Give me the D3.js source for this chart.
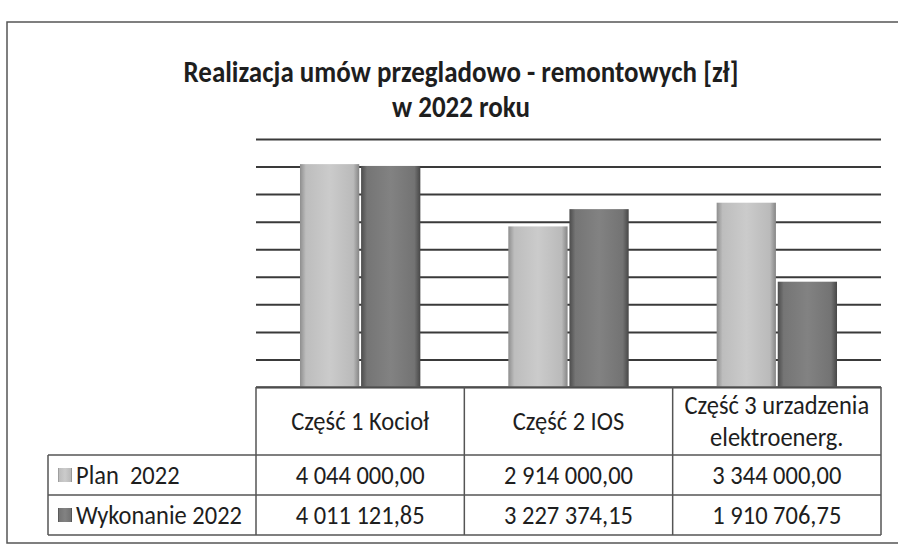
<!DOCTYPE html>
<html>
<head>
<meta charset="utf-8">
<script src="https://cdn.jsdelivr.net/npm/d3@7"></script>
<style>
  html, body { margin: 0; padding: 0; background: #fff; }
  svg { display: block; font-family: "Carlito", "Lato", sans-serif; }
</style>
</head>
<body>
<div id="chart"></div>
<script>
// --- dane ---
const titleLines = ["Realizacja umów przegladowo - remontowych [zł]", "w 2022 roku"];
const categories = ["Część 1 Kocioł", "Część 2 IOS", "Część 3 urzadzenia elektroenerg."];
const categoryLines = [["Część 1 Kocioł"], ["Część 2 IOS"], ["Część 3 urzadzenia", "elektroenerg."]];
const seriesNames = ["Plan  2022", "Wykonanie 2022"];
const plan2022 = [4044000.00, 2914000.00, 3344000.00];
const wykonanie2022 = [4011121.85, 3227374.15, 1910706.75];
const yTicks = [0, 500000, 1000000, 1500000, 2000000, 2500000, 3000000, 3500000, 4000000, 4500000];

const width = 898, height = 547;
const plotLeft = 256, plotRight = 881, plotTop = 139, plotBottom = 387;
const tableTop = 387, rowTops = [455, 495], tableBottom = 535, rowLabelLeft = 48;

const series = [
  { name: seriesNames[0], values: plan2022, grad: "gPlan" },
  { name: seriesNames[1], values: wykonanie2022, grad: "gWyk" }
];

const plFormat = d3.formatLocale({ decimal: ",", thousands: " ", grouping: [3], currency: ["", " zł"] }).format(",.2f");

const svg = d3.select("#chart").append("svg")
  .attr("width", width)
  .attr("height", height)
  .attr("viewBox", `0 0 ${width} ${height}`);

// gradienty słupków (efekt 3D)
const defs = svg.append("defs");
function addGrad(id, stops) {
  const g = defs.append("linearGradient").attr("id", id).attr("x1", 0).attr("x2", 1).attr("y1", 0).attr("y2", 0);
  stops.forEach(s => g.append("stop").attr("offset", s[0]).attr("stop-color", s[1]));
}
addGrad("gPlan", [["0%", "#8e8e8e"], ["10%", "#bdbdbd"], ["50%", "#cbcbcb"], ["90%", "#bababa"], ["100%", "#858585"]]);
addGrad("gWyk", [["0%", "#4c4c4c"], ["10%", "#757575"], ["50%", "#828282"], ["90%", "#737373"], ["100%", "#474747"]]);

// ramka
svg.append("rect")
  .attr("x", 7).attr("y", 22)
  .attr("width", width).attr("height", 521)
  .attr("fill", "#fff").attr("stroke", "#555").attr("stroke-width", 1.5);

// tekst lekko rozciągnięty w pionie jak na skanie
function stretched(sel, x, yy, s) {
  return sel.append("text").attr("transform", `translate(${x},${yy}) scale(1,${s || 1.1})`);
}

// tytuł
const title = svg.append("g").attr("font-weight", "bold").attr("fill", "#1e1e1e").attr("font-size", 27);
titleLines.forEach((t, i) => {
  stretched(title, 461, 82 + i * 35, 1.12)
    .attr("text-anchor", "middle")
    .text(t);
});

// skale
const x0 = d3.scaleBand().domain(categories).range([plotLeft, plotRight]).padding(0);
const x1 = d3.scaleBand().domain(seriesNames).range([0, x0.bandwidth()]).paddingInner(0.03).paddingOuter(0.72);
const y = d3.scaleLinear().domain([0, 4500000]).range([plotBottom, plotTop]);

// linie siatki
const grid = svg.append("g")
  .attr("transform", `translate(${plotLeft},0)`)
  .call(d3.axisLeft(y).tickValues(yTicks).tickSize(-(plotRight - plotLeft)).tickFormat(""));
grid.select(".domain").remove();
grid.selectAll(".tick line").attr("stroke", "#3a3a3a").attr("stroke-width", 2);

// słupki
const groups = svg.append("g").selectAll("g")
  .data(categories)
  .join("g")
  .attr("transform", d => `translate(${x0(d)},0)`);

groups.selectAll("rect")
  .data((d, i) => series.map(s => ({ name: s.name, value: s.values[i], grad: s.grad })))
  .join("rect")
  .attr("x", d => x1(d.name))
  .attr("width", x1.bandwidth())
  .attr("y", d => y(d.value))
  .attr("height", d => y(0) - y(d.value))
  .attr("fill", d => `url(#${d.grad})`);

// tabela danych
const table = svg.append("g").attr("stroke", "#555").attr("stroke-width", 1.5).attr("fill", "none");
table.append("line").attr("x1", plotLeft).attr("x2", plotRight).attr("y1", tableTop).attr("y2", tableTop);
[...rowTops, tableBottom].forEach(yy =>
  table.append("line").attr("x1", rowLabelLeft).attr("x2", plotRight).attr("y1", yy).attr("y2", yy));
[plotLeft, ...categories.slice(1).map(c => x0(c)), plotRight].forEach(xx =>
  table.append("line").attr("x1", xx).attr("x2", xx).attr("y1", tableTop).attr("y2", tableBottom));
table.append("line").attr("x1", rowLabelLeft).attr("x2", rowLabelLeft).attr("y1", rowTops[0]).attr("y2", tableBottom);

const txt = svg.append("g").attr("fill", "#1e1e1e").attr("font-size", 24.5);

// nagłówki kategorii
categories.forEach((c, i) => {
  const lines = categoryLines[i];
  const cy = (tableTop + rowTops[0]) / 2;
  lines.forEach((l, j) => {
    stretched(txt, x0(c) + x0.bandwidth() / 2, cy + (j - (lines.length - 1) / 2) * 32)
      .attr("dy", "0.35em")
      .attr("text-anchor", "middle")
      .text(l);
  });
});

// wiersze serii
series.forEach((s, r) => {
  const top = rowTops[r];
  const bottom = r + 1 < rowTops.length ? rowTops[r + 1] : tableBottom;
  const cy = (top + bottom) / 2;
  svg.append("rect")
    .attr("x", 58).attr("y", cy - 7)
    .attr("width", 14).attr("height", 14)
    .attr("fill", `url(#${s.grad})`);
  stretched(txt, 76, cy)
    .attr("dy", "0.35em")
    .style("white-space", "pre")
    .text(s.name);
  categories.forEach((c, i) => {
    stretched(txt, x0(c) + x0.bandwidth() / 2, cy)
      .attr("dy", "0.35em")
      .attr("text-anchor", "middle")
      .text(plFormat(s.values[i]));
  });
});
</script>
</body>
</html>
